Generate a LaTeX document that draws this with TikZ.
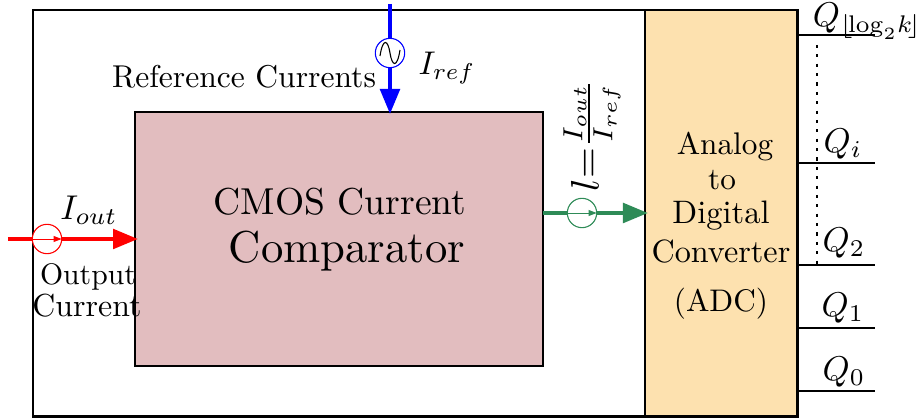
\documentclass[tikz,border=0pt]{standalone}
\usepackage{amsmath}
\usetikzlibrary{arrows.meta}
\definecolor{cmosfill}{RGB}{226,189,191}
\definecolor{adcfill}{RGB}{253,225,175}
\definecolor{sgreen}{RGB}{46,139,87}
\tikzset{
  every node/.style={inner sep=0pt,outer sep=0pt},
  block/.style={draw=black,line width=0.4pt},
  src/.style={circle,draw,fill=white,line width=0.35pt,minimum size=9.4pt},
  wire/.style={line width=1.35pt},
  bigtip/.style={-{Triangle[length=8pt,width=6.2pt]}},
  thintip/.style={line width=0.3pt,-{Triangle[length=2.6pt,width=1.9pt]}},
  qline/.style={line width=0.35pt},
  lab/.style={scale=#1},
}
\begin{document}
\begin{tikzpicture}[x=0.32pt,y=-0.32pt]
\useasboundingbox (0,0) rectangle (921,419);
\node[block,fill=adcfill,minimum width=49pt,minimum height=130.2pt,anchor=north west] (adc) at (645,10) {};
\node[block,fill=cmosfill,minimum width=130.6pt,minimum height=81.3pt,anchor=north west] (cmos) at (135,112) {};
\node[minimum width=244.8pt,minimum height=130.2pt,anchor=north west,draw=black,line width=0.95pt] (outer) at (33,10) {};
\coordinate (btop) at (390,4);
\coordinate (rleft) at (8,239);
\node[src,draw=blue] (bsrc) at (390,53) {};
\node[src,draw=red] (rsrc) at (47,239) {};
\node[src,draw=sgreen] (gsrc) at (582,213) {};
\coordinate (bend) at (390,114);
\coordinate (rend) at (138,239);
\coordinate (gstart) at (543,213);
\coordinate (gend) at (648,213);
\draw[wire,blue] (btop) -- (bsrc);
\draw[wire,blue,bigtip] (bsrc) -- (bend);
\draw[wire,red] (rleft) -- (rsrc);
\draw[wire,red,bigtip] (rsrc) -- (rend);
\draw[wire,sgreen] (gstart) -- (gsrc);
\draw[wire,sgreen,bigtip] (gsrc) -- (gend);
\draw[thintip,red] (rsrc.west) -- (rsrc.east);
\draw[thintip,sgreen] (gsrc.west) -- (gsrc.east);
\draw[line width=0.35pt] (380,56) .. controls (383,37) and (388,40) .. (390,53) .. controls (392,66) and (397,69) .. (400,50);
\node[lab=1.01] at (244,77) {Reference Currents};
\node[lab=1.05] at (447,68) {$I_{ref}$};
\node[lab=1.1] at (89,210) {$I_{out}$};
\node[lab=0.95] at (88,277) {Output};
\node[lab=1.02] at (87,306) {Current};
\node[lab=1.2] at (340,202) {CMOS Current};
\node[lab=1.43] at (347,251) {Comparator};
\node[rotate=90,lab=1.27,anchor=center] at (592,135) {$l{=}\frac{I_{out}}{I_{ref}}$};
\node at (725,147) {Analog};
\node at (722,180) {to};
\node[lab=1.04] at (721,216) {Digital};
\node[lab=1.03] at (721,252) {Converter};
\node at (721,304) {(ADC)};
\coordinate (q4) at (875,35);
\coordinate (q3) at (875,163);
\coordinate (q2) at (875,265);
\coordinate (q1) at (875,328);
\coordinate (q0) at (875,391);
\draw[qline] (798,35) -- (q4);
\draw[qline] (798,163) -- (q3);
\draw[qline] (798,265) -- (q2);
\draw[qline] (798,328) -- (q1);
\draw[qline] (798,391) -- (q0);
\draw[line width=0.35pt,dash pattern=on 1pt off 2pt] (817,45) -- (817,265);
\node[lab=1.1,anchor=west] at (813,21) {$Q_{\lfloor\!\log_2\!k\!\rfloor}$};
\node[lab=1.1] at (843,144) {$Q_i$};
\node[lab=1.1] at (844,243) {$Q_2$};
\node[lab=1.1] at (843,308) {$Q_1$};
\node[lab=1.1] at (844,372) {$Q_0$};
\end{tikzpicture}
\end{document}
